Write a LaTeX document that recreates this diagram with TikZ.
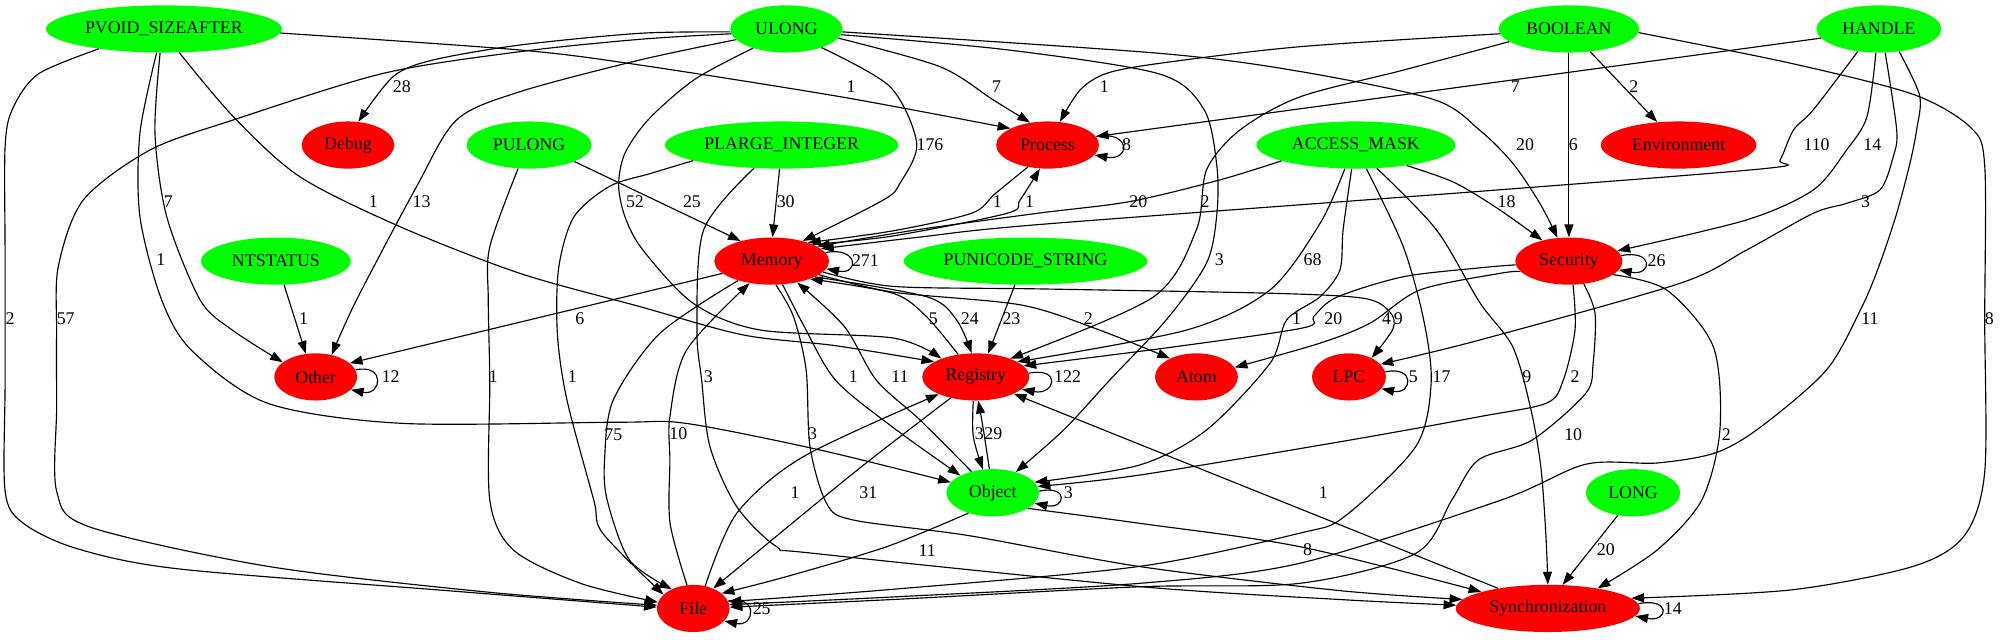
\documentclass[tikz,border=0pt]{standalone}
\usepackage{fontspec}
\setmainfont{Liberation Serif}
\usetikzlibrary{shapes.geometric,arrows.meta}
\definecolor{gvg}{RGB}{0,255,0}
\definecolor{gvr}{RGB}{255,0,0}
\tikzset{
  gv/.style={ellipse, inner sep=0pt, minimum height=37pt, font=\fontsize{14}{16}\selectfont},
  gn/.style={gv, fill=gvg},
  rn/.style={gv, fill=gvr},
  edg/.style={draw=black, line width=0.9pt, -{Triangle[length=10pt,width=7pt]}},
  elab/.style={inner sep=0pt, font=\fontsize{14}{16}\selectfont},
}
\begin{document}
\begin{tikzpicture}[x=1pt,y=-1pt]
\fill[white] (0,0) rectangle (1568,501);
\useasboundingbox (0,0) rectangle (1568,501);
% nodes
\node[gn, minimum width=185pt] (pvoid) at (128.5,22.7) {PVOID\_SIZEAFTER};
\node[gn, minimum width=88pt] (ulong) at (616.5,22.7) {ULONG};
\node[gn, minimum width=110pt] (boolean) at (1230,22.7) {BOOLEAN};
\node[gn, minimum width=98pt] (handle) at (1473,22.7) {HANDLE};
\node[rn, minimum width=72.6pt] (debug) at (272.8,113.7) {Debug};
\node[gn, minimum width=98pt] (pulong) at (414.8,113.7) {PULONG};
\node[gn, minimum width=183pt] (plarge) at (612.8,113.7) {PLARGE\_INTEGER};
\node[rn, minimum width=80.6pt] (process) at (821.3,113.7) {Process};
\node[gn, minimum width=156pt] (access) at (1063,113.7) {ACCESS\_MASK};
\node[rn, minimum width=122pt] (environ) at (1316,113.7) {Environment};
\node[gn, minimum width=117.4pt] (ntstatus) at (216.3,204.7) {NTSTATUS};
\node[rn, minimum width=90pt] (memory) at (605,204.7) {Memory};
\node[gn, minimum width=191pt] (punicode) at (804,204.7) {PUNICODE\_STRING};
\node[rn, minimum width=84pt] (security) at (1230,204.7) {Security};
\node[rn, minimum width=65pt] (other) at (247.5,295.5) {Other};
\node[rn, minimum width=84pt] (registry) at (765,295.5) {Registry};
\node[rn, minimum width=65pt] (atom) at (938,295.5) {Atom};
\node[rn, minimum width=58pt] (lpc) at (1057.6,295.5) {LPC};
\node[gn, minimum width=72.6pt] (object) at (778.3,386.3) {Object};
\node[gn, minimum width=74pt] (long) at (1280.3,386.3) {LONG};
\node[rn, minimum width=57pt] (file) at (543.5,477) {File};
\node[rn, minimum width=144.4pt] (sync) at (1213.5,477) {Synchronization};

% PVOID_SIZEAFTER
\draw[edg] plot[smooth] coordinates {(pvoid.-163) (30,58) (10,85) (4,115) (4,200) (4,300) (4,385) (18,410) (60,430) (140,446) (350,463) (file.178)};
\draw[edg] plot[smooth] coordinates {(pvoid.-99) (121.5,104.5) (130.7,169.8) (156.8,235) (182,258.7) (other.156)};
\draw[edg] plot[smooth] coordinates {(pvoid.-107) (109.7,104.5) (109.7,169.8) (126.7,235) (150.5,275) (210,316.2) (315,331.9) (486,331) (538.4,332) (642.9,352.8) (object.166)};
\draw[edg] plot[smooth] coordinates {(pvoid.-57) (183,91.5) (235,138.5) (313.6,177.7) (407.6,214.3) (501.7,240.4) (582.7,262.6) (655,271) (registry.160)};
\draw[edg] plot[smooth] coordinates {(pvoid.-2) (407.6,39.2) (501.8,51) (658.6,75.8) (process.156)};

% ULONG
\draw[edg] plot[smooth] coordinates {(ulong.-177) (501.8,26.1) (407.6,35.3) (339.7,47) (308.3,60) (debug.66)};
\draw[edg] plot[smooth] coordinates {(ulong.-175) (501.8,30.8) (407.6,40.5) (300.5,57.5) (183,94) (117.6,117.6) (65.3,156.8) (45.7,209) (44.4,260) (44.4,320) (44.4,385) (70,413) (210,444) (380,464) (file.175)};
\draw[edg] plot[smooth] coordinates {(ulong.-168) (501.8,47) (407.6,71.9) (358,94) (326.6,146.3) (279.6,235) (other.54)};
\draw[edg] plot[smooth] coordinates {(ulong.-150) (545,62) (509,93) (490,120) (485,145) (490,170) (504,196) (543.5,237.8) (595.8,258.7) (700.3,265) (registry.152)};
\draw[edg] plot[smooth] coordinates {(ulong.-28) (697.8,68) (718.7,112.4) (705.6,143.7) (692.5,156.8) (memory.33)};
\draw[edg] plot[smooth] coordinates {(ulong.-10) (737,52.3) (778.8,78.4) (process.128)};
\draw[edg] plot[smooth] coordinates {(ulong.-6) (789,39) (909,58) (944,86) (954,130) (954,168) (946,206) (915,250) (870,298) (834,337) (object.42)};
\draw[edg] plot[smooth] coordinates {(ulong.-3) (909,41.8) (1019,56) (1124,78) (1160,102) (1186,128) (1207,159) (security.116)};

% BOOLEAN
\draw[edg] plot[smooth] coordinates {(boolean.-176) (1019.2,36.6) (909.4,49.6) (867.6,57.5) (846.7,70.6) (process.62)};
\draw[edg] plot[smooth] coordinates {(boolean.-168) (1100,55) (1019,76) (972,102) (946,133) (938,180) (904,233) (registry.28)};
\draw[edg] (boolean.-47) -- (environ.133);
\draw[edg] (boolean.-90) -- (security.90);
\draw[edg] plot[smooth] coordinates {(boolean.-3) (1404,49.6) (1500,74) (1545,100) (1556,130) (1556,250) (1556,370) (1540,420) (1500,444) (1404,462.5) (sync.7)};

% HANDLE
\draw[edg] (handle.-171) -- (process.10);
\draw[edg] plot[smooth] coordinates {(handle.-133) (1421.7,86) (1406,102) (1395.5,125.4) (1385,132) (1160,150) (815,176) (720,186) (memory.14)};
\draw[edg] plot[smooth] coordinates {(handle.-97) (1463.7,91.5) (1447.7,117.6) (1421.6,148.9) (1369.3,172.4) (security.12)};
\draw[edg] plot[smooth] coordinates {(handle.-75) (1487,101.9) (1484.3,122.8) (1473.9,148.9) (1447.7,159.4) (1421.6,167.2) (1369.3,196) (1317.1,222.1) (1160.3,266.5) (lpc.22)};
\draw[edg] plot[smooth] coordinates {(handle.-48) (1505,75) (1502.6,101.9) (1497.4,128) (1487,167.2) (1473.9,206.4) (1460,240) (1432,290) (1380,335) (1345,355) (1299,363) (1243,364) (1177,392) (1019,441.6) (893.7,457.3) (700,468) (file.6)};

% PULONG, PLARGE_INTEGER, NTSTATUS, PUNICODE_STRING, LONG
\draw[edg] (pulong.-20) -- (memory.147);
\draw[edg] plot[smooth] coordinates {(pulong.-115) (384,193.4) (382.8,235) (384,300) (384,392) (402.5,431.2) (455,457.3) (file.170)};
\draw[edg] (plarge.-95) -- (memory.88);
\draw[edg] plot[smooth] coordinates {(plarge.-170) (510,136) (478,146) (450,170) (438,210) (437,262) (444.5,313.6) (465.5,392) (472.5,418) (file.155)};
\draw[edg] plot[smooth] coordinates {(plarge.-140) (551.6,180.3) (546.4,258.7) (550.1,297.9) (556.6,350.2) (577.6,397.2) (608.9,428.6) (637.7,433.8) (893.7,459.9) (1050,470) (sync.178)};
\draw[edg] (ntstatus.-71) -- (other.113);
\draw[edg] (punicode.-114) -- (registry.62);
\draw[edg] (long.-124) -- (sync.58);

% ACCESS_MASK
\draw[edg] plot[smooth] coordinates {(access.-168) (956.5,141) (886,158) (815,167) (720,180) (memory.18)};
\draw[edg] plot[smooth] coordinates {(access.-22) (1140,143) (1175,164) (security.142)};
\draw[edg] plot[smooth] coordinates {(access.-115) (1035,175) (995.7,227.3) (930.4,258.7) (registry.20)};
\draw[edg] plot[smooth] coordinates {(access.-100) (1053,180) (1050.5,211.6) (1035,232.6) (1008.7,250.8) (995.7,284.8) (946,337) (893.7,364.5) (object.14)};
\draw[edg] plot[smooth] coordinates {(access.-66) (1100,193) (1116,250) (1122,300) (1110,350) (1054,405) (1019,418) (893.7,444) (700,462) (file.11)};
\draw[edg] plot[smooth] coordinates {(access.-48) (1126,180) (1160,237) (1186,272) (1200,320) (1208,366) (1212,420) (sync.90)};

% Memory
\draw[edg] (memory.-166) -- (other.22);
\draw[edg] plot[smooth] coordinates {(memory.22) (700,185) (789.6,167.2) (799.7,156.8) (process.-108)};
\draw[edg] plot[smooth] coordinates {(memory.-20) (726.4,232.6) (750,250.9) (registry.100)};
\draw[edg] plot[smooth] coordinates {(memory.-16) (700,229) (800,239) (860,258) (atom.145)};
\draw[edg] plot[smooth] coordinates {(memory.-12) (700,224.5) (815,226.5) (1000,230) (1070,234) (1090,245) (1092,258) (lpc.40)};
\draw[edg] plot[smooth] coordinates {(memory.-65) (630,255) (655,298) (700,335) (object.152)};
\draw[edg] plot[smooth] coordinates {(memory.-150) (517.4,261.3) (480.8,313.6) (474,360) (476,392) (493.5,439) (file.138)};
\draw[edg] plot[smooth] coordinates {(memory.-80) (622,248) (632,290) (635,350) (648,394.6) (669,407.7) (760,420) (893.7,444.2) (1050,463) (sync.174)};
\draw[edg] (memory.9) .. controls +(26,-5) and +(26,5) .. (memory.-8);

% Process
\draw[edg] plot[smooth] coordinates {(process.-132) (780,152) (761.6,167.2) (700,181) (memory.27)};
\draw[edg] (process.10) .. controls +(28,-5) and +(28,5) .. (process.-12);

% Security
\draw[edg] plot[smooth] coordinates {(security.-176) (1160,210) (1100,217) (1048,233) (1030,248) (1022,257) (920,272) (registry.13)};
\draw[edg] plot[smooth] coordinates {(security.-168) (1176,214.3) (1113.3,227.3) (1074,253.4) (1035,269) (atom.14)};
\draw[edg] plot[smooth] coordinates {(security.-80) (1234.8,258.7) (1225.6,298) (1212.6,316) (1160.3,326.6) (1058.4,345) (893.7,372.4) (object.8)};
\draw[edg] plot[smooth] coordinates {(security.-57) (1250.5,245.6) (1249,284.8) (1243.2,308.4) (1201.2,345) (1159,360.6) (1138.2,392) (1110,433.8) (1019.2,457.3) (893.7,460) (700,470) (file.2)};
\draw[edg] plot[smooth] coordinates {(security.-17) (1306.6,227.3) (1343.2,271.7) (1348.4,337) (1334.2,392) (1299.2,431.2) (sync.22)};
\draw[edg] (security.6) .. controls +(26,-5) and +(26,5) .. (security.-10);

% Registry
\draw[edg] plot[smooth] coordinates {(registry.128) (726.4,248.3) (700.3,230) (memory.-25)};
\draw[edg] plot[smooth] coordinates {(registry.-96) (763,342) (object.113)};
\draw[edg] plot[smooth] coordinates {(registry.-140) (669,371) (file.45)};
\draw[edg] (registry.4) .. controls +(26,-5) and +(26,5) .. (registry.-15);

% Object
\draw[edg] plot[smooth] coordinates {(object.98) (771,337) (registry.-84)};
\draw[edg] plot[smooth] coordinates {(object.135) (721,329) (687,298) (662,256) (memory.-40)};
\draw[edg] plot[smooth] coordinates {(object.-140) (695.1,428.6) (616.8,452) (file.28)};
\draw[edg] plot[smooth] coordinates {(object.-24) (893.7,410.3) (1019.2,428.6) (sync.166)};
\draw[edg] (object.2) .. controls +(24,-5) and +(24,5) .. (object.-14);

% File
\draw[edg] plot[smooth] coordinates {(file.105) (525.3,410) (525.2,360.6) (525.2,326.6) (538.3,274.4) (memory.-135)};
\draw[edg] plot[smooth] coordinates {(file.62) (577.6,402.4) (629.8,358) (registry.-155)};
\draw[edg] (file.12) .. controls +(24,-5) and +(24,5) .. (file.-22);

% Synchronization
\draw[edg] (sync.158) -- (registry.-24);
\draw[edg] (sync.3) .. controls +(26,-5) and +(26,5) .. (sync.-5);

% Other, LPC loops
\draw[edg] (other.10) .. controls +(24,-5) and +(24,5) .. (other.-20);
\draw[edg] (lpc.8) .. controls +(24,-5) and +(24,5) .. (lpc.-20);

% edge labels
\node[elab] (t01) at (8,249.6) {2};
\node[elab] (t02) at (51.5,249.6) {57};
\node[elab] (t03) at (132,158) {7};
\node[elab] (t04) at (126,203.8) {1};
\node[elab] (t05) at (292.7,158) {1};
\node[elab] (t06) at (330.5,158) {13};
\node[elab] (t07) at (315,68) {28};
\node[elab] (t08) at (238,249.6) {1};
\node[elab] (t09) at (306.3,295.3) {12};
\node[elab] (t10) at (454.5,249.6) {6};
\node[elab] (t11) at (386.8,295.3) {1};
\node[elab] (t12) at (448.7,295.3) {1};
\node[elab] (t13) at (497.8,158.5) {52};
\node[elab] (t14) at (542.5,158) {25};
\node[elab] (t15) at (616,158) {30};
\node[elab] (t16) at (729.1,113.7) {176};
\node[elab] (t17) at (678.5,204.4) {271};
\node[elab] (t18) at (781.9,158) {1};
\node[elab] (t19) at (807.1,158) {1};
\node[elab] (t20) at (667.2,68) {1};
\node[elab] (t21) at (781.4,68) {7};
\node[elab] (t22) at (865.8,68) {1};
\node[elab] (t23) at (1188,68) {7};
\node[elab] (t24) at (883.3,113.7) {8};
\node[elab] (t25) at (1281,68) {2};
\node[elab] (t26) at (1233.5,113.1) {6};
\node[elab] (t27) at (1195.6,113.1) {20};
\node[elab] (t28) at (1424.2,113.1) {110};
\node[elab] (t29) at (1467.9,113.1) {14};
\node[elab] (t30) at (1462.6,158) {3};
\node[elab] (t31) at (1181.2,158) {18};
\node[elab] (t32) at (892.5,158) {20};
\node[elab] (t33) at (944.7,158) {2};
\node[elab] (t34) at (956,203.8) {3};
\node[elab] (t35) at (1029.1,203.8) {68};
\node[elab] (t36) at (1298.8,204.6) {26};
\node[elab] (t37) at (1016.6,249.5) {1};
\node[elab] (t38) at (1045.3,249.5) {20};
\node[elab] (t39) at (1087.1,249.5) {4};
\node[elab] (t40) at (1096.3,249.5) {9};
\node[elab] (t41) at (853.3,249.5) {2};
\node[elab] (t42) at (731.7,249.6) {5};
\node[elab] (t43) at (760.4,249.6) {24};
\node[elab] (t44) at (793,249.6) {23};
\node[elab] (t45) at (837,295.3) {122};
\node[elab] (t46) at (1108,295.3) {5};
\node[elab] (t47) at (1466,249.5) {11};
\node[elab] (t48) at (1559.6,249.5) {8};
\node[elab] (t49) at (555.3,295.3) {3};
\node[elab] (t50) at (669,295.3) {1};
\node[elab] (t51) at (705.5,295.3) {11};
\node[elab] (t52) at (1130.2,295.3) {17};
\node[elab] (t53) at (1197,295.3) {9};
\node[elab] (t54) at (1234.8,295.3) {2};
\node[elab] (t55) at (480.8,341) {75};
\node[elab] (t56) at (531.8,340.2) {10};
\node[elab] (t57) at (637.1,340.2) {3};
\node[elab] (t58) at (767.8,340.2) {3};
\node[elab] (t59) at (778.8,340.2) {29};
\node[elab] (t60) at (1233.4,340.5) {10};
\node[elab] (t61) at (1353.5,341) {2};
\node[elab] (t62) at (623.3,386.2) {1};
\node[elab] (t63) at (680.8,386.2) {31};
\node[elab] (t64) at (837.6,386.2) {3};
\node[elab] (t65) at (1037.4,386.2) {1};
\node[elab] (t66) at (727,431.7) {11};
\node[elab] (t67) at (1025.2,431.2) {8};
\node[elab] (t68) at (1259,431.2) {20};
\node[elab] (t69) at (597.2,476.9) {25};
\node[elab] (t70) at (1311.5,476.9) {14};
\end{tikzpicture}
\end{document}
